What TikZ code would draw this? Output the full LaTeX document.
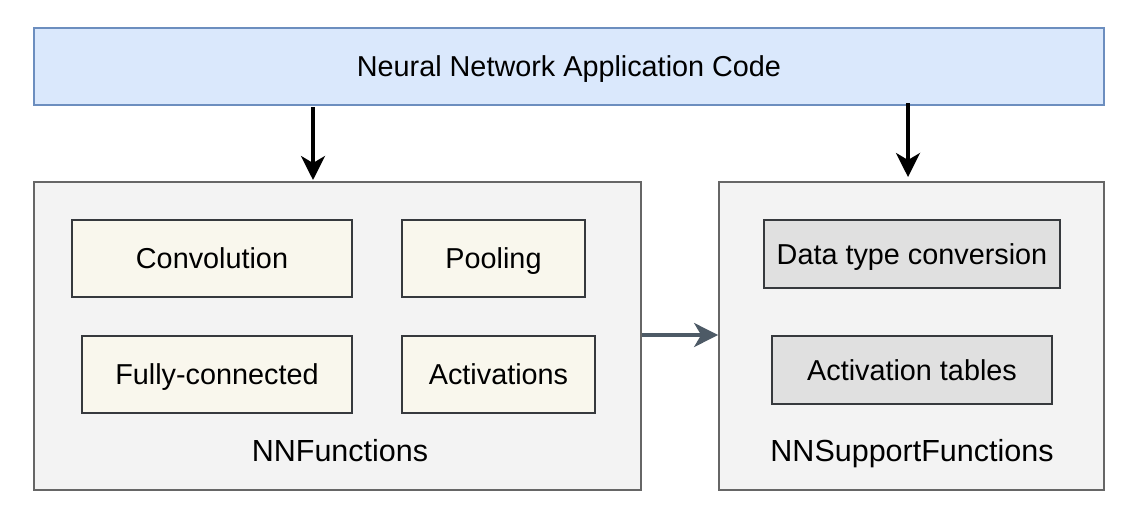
\documentclass[tikz,border=0pt]{standalone}
\usepackage{fontspec}
\setmainfont{Liberation Sans}
\usetikzlibrary{arrows.meta}
\definecolor{topfill}{HTML}{DAE8FC}
\definecolor{topdraw}{HTML}{6C8EBF}
\definecolor{grpfill}{HTML}{F3F3F3}
\definecolor{grpdraw}{HTML}{666666}
\definecolor{creamfill}{HTML}{F9F7ED}
\definecolor{greyfill}{HTML}{E0E0E0}
\definecolor{boxdraw}{HTML}{36393D}
\definecolor{slate}{HTML}{4D5A66}
\tikzset{
  txt/.style={font=\fontsize{28.8}{34}\selectfont,text height=20.6pt,text depth=0pt},
  lbl/.style={font=\fontsize{30.5}{36}\selectfont,text height=21.8pt,text depth=0pt,inner sep=0pt},
  topbox/.style={draw=topdraw,fill=topfill,line width=2pt,inner sep=0pt,txt},
  grpbox/.style={draw=grpdraw,fill=grpfill,line width=1.8pt,inner sep=0pt},
  creambox/.style={draw=boxdraw,fill=creamfill,line width=2pt,inner sep=0pt,txt},
  greybox/.style={draw=boxdraw,fill=greyfill,line width=2pt,inner sep=0pt,txt},
  blackarrow/.style={line width=3.5pt,-{Stealth[length=24pt,width=24pt,inset=7pt]}},
  slatearrow/.style={draw=slate,line width=3.5pt,-{Stealth[length=24pt,width=24pt,inset=7pt]}},
}
\begin{document}
\begin{tikzpicture}[x=1pt,y=-1pt]
\useasboundingbox[fill=white] (0,0) rectangle (1142,509);
\node[topbox,minimum width=1070pt,minimum height=77pt] (app) at (569,66.5) {Neural Network Application Code};
\node[grpbox,minimum width=607pt,minimum height=308pt] (nnf) at (337.5,336) {};
\node[grpbox,minimum width=385pt,minimum height=308pt] (nns) at (911.5,336) {};
\node[lbl] (nnflbl) at (340,451) {NNFunctions};
\node[lbl] (nnslbl) at (912,451) {NNSupportFunctions};
\node[creambox,minimum width=280pt,minimum height=77pt] (conv) at (212,258.5) {Convolution};
\node[creambox,minimum width=183pt,minimum height=77pt] (pool) at (493.5,258.5) {Pooling};
\node[creambox,minimum width=270pt,minimum height=77pt] (fc) at (217,374.5) {Fully-connected};
\node[creambox,minimum width=193pt,minimum height=77pt] (act) at (498.5,374.5) {Activations};
\node[greybox,minimum width=296pt,minimum height=68pt] (dtc) at (912,254) {Data type conversion};
\node[greybox,minimum width=280pt,minimum height=68pt] (at) at (912,370) {Activation tables};
\coordinate (a1s) at (313,107);
\coordinate (a1e) at (313,180);
\coordinate (a2s) at (908,103);
\coordinate (a2e) at (908,177);
\draw[blackarrow] (a1s) -- (a1e);
\draw[blackarrow] (a2s) -- (a2e);
\draw[slatearrow] (nnf.east |- 0,335) -- (nns.west |- 0,335);
\end{tikzpicture}
\end{document}
